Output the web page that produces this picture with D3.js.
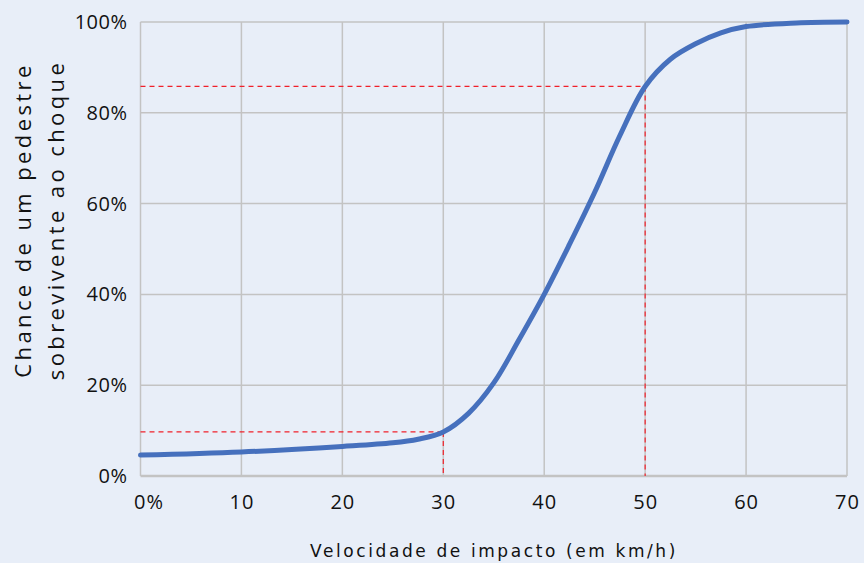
<!DOCTYPE html>
<html>
<head>
<meta charset="utf-8">
<script src="https://cdn.jsdelivr.net/npm/d3@7"></script>
<style>
  html, body { margin: 0; padding: 0; background: #e8eef8; }
  svg { display: block; }
</style>
</head>
<body>
<svg id="chart" width="864" height="563"></svg>
<script>
// Impact speed (km/h) and probability that a pedestrian survives
const speeds   = [0, 10, 20, 25, 27.5, 30, 32.5, 35, 37.5, 40, 42.5, 45, 47.5, 50, 52.5, 55, 57.5, 60, 65, 70];
const survival = [0.046, 0.053, 0.065, 0.073, 0.081, 0.097, 0.138, 0.205, 0.30, 0.40, 0.51, 0.625, 0.75, 0.858, 0.918, 0.952, 0.976, 0.99, 0.998, 1.0];

// Reference markers: speed and survival chance highlighted with dashed guides
const markerSpeeds = [30, 50];
const markerValues = [0.097, 0.858];

const xTicks = [0, 10, 20, 30, 40, 50, 60, 70];
const xTickLabels = ["0%", "10", "20", "30", "40", "50", "60", "70"];
const yTicks = [0, 0.2, 0.4, 0.6, 0.8, 1.0];

const svg = d3.select("#chart");
const W = 864, H = 563;
const margin = { left: 140.5, right: 17, top: 22, bottom: 87 };

const x = d3.scaleLinear().domain([0, 70]).range([margin.left, W - margin.right]);
const y = d3.scaleLinear().domain([0, 1]).range([H - margin.bottom, margin.top]);

svg.append("rect").attr("width", W).attr("height", H).attr("fill", "#e8eef8");

const grid = svg.append("g");
// vertical grid lines
grid.selectAll("line.v").data(xTicks).join("line")
  .attr("x1", d => x(d)).attr("x2", d => x(d))
  .attr("y1", y(0)).attr("y2", y(1))
  .attr("stroke", "#c3c3c3").attr("stroke-width", 1.5);
// horizontal grid lines
grid.selectAll("line.h").data(yTicks).join("line")
  .attr("x1", x(0)).attr("x2", x(70))
  .attr("y1", d => y(d)).attr("y2", d => y(d))
  .attr("stroke", "#c3c3c3").attr("stroke-width", d => d === 0 ? 2.5 : 1.5);

// dashed guides
const guides = svg.append("g").attr("stroke", "#f0202a").attr("stroke-width", 1.2)
  .attr("stroke-dasharray", "5,4").attr("fill", "none");
markerSpeeds.forEach((s, i) => {
  guides.append("line").attr("x1", x(0)).attr("x2", x(s))
    .attr("y1", y(markerValues[i])).attr("y2", y(markerValues[i]));
  guides.append("line").attr("x1", x(s)).attr("x2", x(s))
    .attr("y1", y(markerValues[i])).attr("y2", y(0));
});

// survival curve
const line = d3.line().x((d, i) => x(speeds[i])).y(d => y(d)).curve(d3.curveCatmullRom.alpha(0.5));
svg.append("path").datum(survival)
  .attr("d", line)
  .attr("fill", "none")
  .attr("stroke", "#4670bd")
  .attr("stroke-width", 5)
  .attr("stroke-linecap", "round")
  .attr("stroke-linejoin", "round");

const tickFont = "'Open Sans', 'Noto Sans', sans-serif";

// y axis
const yAxis = d3.axisLeft(y).tickValues(yTicks).tickFormat(d3.format(".0%")).tickSize(0).tickPadding(13);
svg.append("g").attr("transform", `translate(${x(0)},0)`).call(yAxis)
  .call(g => g.select(".domain").remove())
  .call(g => g.selectAll("text")
    .attr("font-family", tickFont).attr("font-size", 20).attr("fill", "#111")
    .attr("letter-spacing", "0.5px"));

// x axis
const xAxis = d3.axisBottom(x).tickValues(xTicks).tickFormat((d, i) => xTickLabels[i]).tickSize(0).tickPadding(19);
svg.append("g").attr("transform", `translate(0,${y(0)})`).call(xAxis)
  .call(g => g.select(".domain").remove())
  .call(g => g.selectAll("text")
    .attr("font-family", tickFont).attr("font-size", 20).attr("fill", "#111")
    .attr("letter-spacing", "1px")
    .attr("dx", d => d === 0 ? 8 : 0));

// axis titles
svg.append("text")
  .attr("x", 494).attr("y", 557)
  .attr("text-anchor", "middle")
  .attr("font-family", "'DejaVu Sans', sans-serif").attr("font-size", 17)
  .attr("letter-spacing", "2.6px").attr("fill", "#111")
  .text("Velocidade de impacto (em km/h)");

const yTitle = svg.append("text")
  .attr("transform", "translate(0,220) rotate(-90)")
  .attr("text-anchor", "middle")
  .attr("font-family", "'Open Sans', 'Noto Sans', sans-serif").attr("font-size", 22)
  .attr("letter-spacing", "3.4px").attr("fill", "#111");
yTitle.append("tspan").attr("x", 0).attr("y", 31).text("Chance de um pedestre");
yTitle.append("tspan").attr("x", 0).attr("y", 64).text("sobrevivente ao choque");
</script>
</body>
</html>
